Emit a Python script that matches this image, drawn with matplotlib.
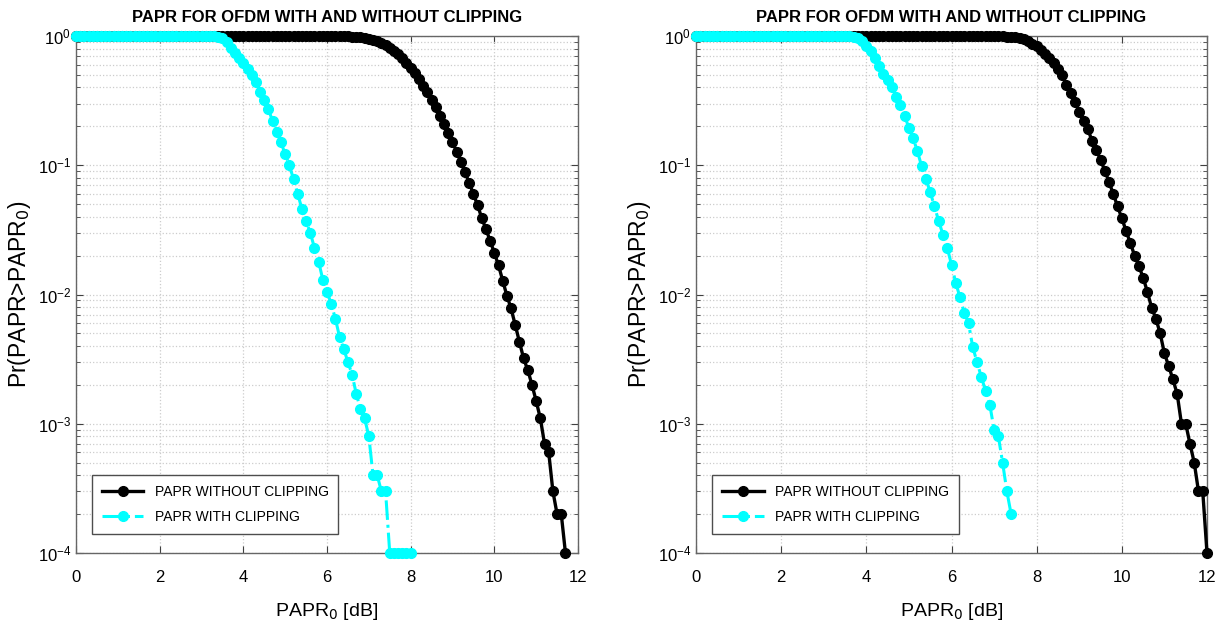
import numpy as np
import matplotlib
matplotlib.use('Agg')
import matplotlib.pyplot as plt
from matplotlib.ticker import LogLocator, NullFormatter, FixedLocator

plt.rcParams['font.family'] = ['Liberation Sans', 'DejaVu Sans']

# PAPR0 grid in dB (0.1 dB step), left figure
x_left_noclip = np.round(np.arange(0, 11.75, 0.1), 1)
ccdf_left_noclip = [
    1, 1, 1, 1, 1, 1, 1, 1, 1, 1,
    1, 1, 1, 1, 1, 1, 1, 1, 1, 1,
    1, 1, 1, 1, 1, 1, 1, 1, 1, 1,
    1, 1, 1, 1, 1, 1, 1, 1, 1, 1,
    1, 1, 1, 1, 1, 1, 1, 1, 1, 1,
    1, 1, 1, 1, 1, 1, 1, 1, 1, 1,
    1.0, 0.9999, 0.9995, 0.999, 0.997, 0.995, 0.991, 0.986, 0.978, 0.967,
    0.953, 0.934, 0.911, 0.882, 0.849, 0.81, 0.767, 0.72, 0.67, 0.62,
    0.567, 0.514, 0.463, 0.413, 0.366, 0.321, 0.28, 0.242, 0.208, 0.178,
    0.151, 0.127, 0.106, 0.088, 0.073, 0.06, 0.049, 0.039, 0.032, 0.026,
    0.021, 0.0168, 0.0128, 0.0098, 0.0078, 0.0058, 0.0043, 0.0032, 0.0026, 0.002,
    0.0015, 0.0011, 0.0007, 0.0006, 0.0003, 0.0002, 0.0002, 0.0001,
]

x_left_clip = np.round(np.arange(0, 8.05, 0.1), 1)
ccdf_left_clip = [
    1, 1, 1, 1, 1, 1, 1, 1, 1, 1,
    1, 1, 1, 1, 1, 1, 1, 1, 1, 1,
    1, 1, 1, 1, 1, 1, 1, 1, 1, 1,
    1,
    0.999, 0.998, 0.995, 0.985, 0.96, 0.90, 0.81, 0.74, 0.68,
    0.62, 0.56, 0.50, 0.44, 0.37, 0.32, 0.27, 0.22, 0.18, 0.15,
    0.122, 0.10, 0.078, 0.06, 0.046, 0.037, 0.03, 0.023, 0.018, 0.013,
    0.0105, 0.0085, 0.0065, 0.0047, 0.0038, 0.003, 0.0024, 0.0017, 0.0013, 0.0011,
    0.0008, 0.0004, 0.0004, 0.0003, 0.0003, 0.0001, 0.0001, 0.0001, 0.0001, 0.0001,
    0.0001,
]

# right figure
x_right_noclip = np.round(np.arange(0, 12.05, 0.1), 1)
ccdf_right_noclip = [
    1, 1, 1, 1, 1, 1, 1, 1, 1, 1,
    1, 1, 1, 1, 1, 1, 1, 1, 1, 1,
    1, 1, 1, 1, 1, 1, 1, 1, 1, 1,
    1, 1, 1, 1, 1, 1, 1, 1, 1, 1,
    1, 1, 1, 1, 1, 1, 1, 1, 1, 1,
    1, 1, 1, 1, 1, 1, 1, 1, 1, 1,
    1, 1, 1, 1, 1, 1, 1, 1, 1, 1,
    0.998, 0.997, 0.995, 0.99, 0.985, 0.975, 0.96, 0.94, 0.91, 0.87,
    0.83, 0.78, 0.72, 0.68, 0.62, 0.56, 0.50, 0.42, 0.36, 0.31,
    0.26, 0.22, 0.19, 0.155, 0.132, 0.11, 0.091, 0.074, 0.06, 0.048,
    0.039, 0.031, 0.025, 0.020, 0.0166, 0.0135, 0.0105, 0.0079, 0.0065, 0.005,
    0.0035, 0.0028, 0.0022, 0.0017, 0.001, 0.001, 0.0007, 0.0005, 0.0003, 0.0003,
    0.0001,
]

x_right_clip = np.round(np.arange(0, 7.45, 0.1), 1)
ccdf_right_clip = [
    1, 1, 1, 1, 1, 1, 1, 1, 1, 1,
    1, 1, 1, 1, 1, 1, 1, 1, 1, 1,
    1, 1, 1, 1, 1, 1, 1, 1, 1, 1,
    1, 1, 1, 1, 1,
    0.998, 0.995, 0.99, 0.97, 0.91,
    0.83, 0.76, 0.68, 0.59, 0.51, 0.46, 0.40, 0.34, 0.29, 0.24,
    0.195, 0.162, 0.128, 0.098, 0.078, 0.062, 0.048, 0.037, 0.029, 0.023,
    0.017, 0.0123, 0.0095, 0.0072, 0.006, 0.0039, 0.003, 0.0023, 0.0018, 0.0014,
    0.0009, 0.0008, 0.0005, 0.0003, 0.0002,
]

title = 'PAPR FOR OFDM WITH AND WITHOUT CLIPPING'

fig = plt.figure(figsize=(12.17, 6.30), dpi=100)
ax1 = fig.add_axes([76 / 1217, 1 - 553 / 630, 502 / 1217, 517 / 630])
ax2 = fig.add_axes([696 / 1217, 1 - 553 / 630, 511 / 1217, 517 / 630])

panels = [
    (ax1, x_left_noclip, ccdf_left_noclip, x_left_clip, ccdf_left_clip),
    (ax2, x_right_noclip, ccdf_right_noclip, x_right_clip, ccdf_right_clip),
]

for ax, xa, ya, xb, yb in panels:
    ax.semilogy(xa, ya, '-o', color='black', lw=2.4, ms=7,
                label='PAPR WITHOUT CLIPPING', clip_on=False, zorder=3)
    ax.semilogy(xb, yb, '-.o', color='cyan', lw=2.2, ms=7,
                label='PAPR WITH CLIPPING', clip_on=False, zorder=4)
    ax.set_xlim(0, 12)
    ax.set_ylim(1e-4, 1)
    ax.xaxis.set_major_locator(FixedLocator([0, 2, 4, 6, 8, 10, 12]))
    ax.yaxis.set_major_locator(LogLocator(base=10, numticks=10))
    ax.yaxis.set_minor_locator(LogLocator(base=10, subs=np.arange(2, 10), numticks=10))
    ax.yaxis.set_minor_formatter(NullFormatter())
    ax.grid(True, which='major', linestyle=':', color='0.8', lw=0.9)
    ax.grid(True, which='minor', axis='y', linestyle=':', color='0.8', lw=0.9)
    ax.tick_params(which='both', direction='in', top=True, right=True,
                   labelsize=12, colors='0.25', labelcolor='black')
    ax.tick_params(axis='x', which='major', pad=12)
    ax.tick_params(which='major', length=5)
    ax.tick_params(which='minor', length=3)
    for s in ax.spines.values():
        s.set_color('0.4')
        s.set_linewidth(1.0)
    ax.set_title(title, fontsize=12, fontweight='bold', pad=10)
    ax.set_xlabel('PAPR$_0$ [dB]', fontsize=14, labelpad=12)
    ax.set_ylabel('Pr(PAPR>PAPR$_0$)', fontsize=16.5, labelpad=3)
    leg = ax.legend(loc='lower left', bbox_to_anchor=(0.032, 0.037), fontsize=10,
                    fancybox=False, framealpha=1, edgecolor='0.3',
                    borderaxespad=0, handlelength=3.0, borderpad=0.7,
                    labelspacing=0.8)
    leg.get_frame().set_linewidth(1.0)

fig.savefig('out.png', dpi=100)
